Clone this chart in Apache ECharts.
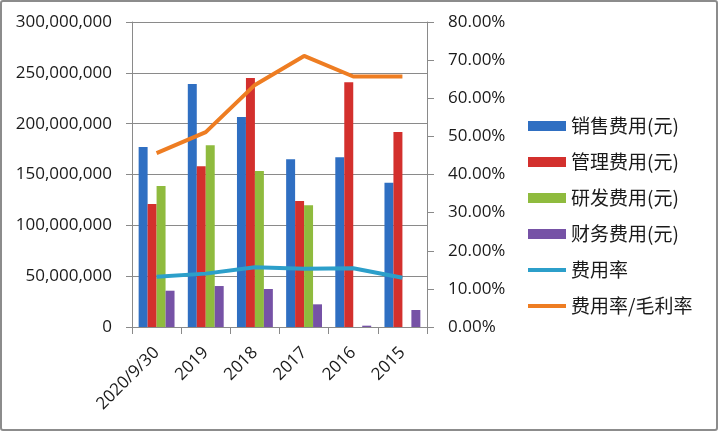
<!DOCTYPE html>
<html>
<head>
<meta charset="utf-8">
<script src="https://cdn.jsdelivr.net/npm/echarts@6/dist/echarts.min.js"></script>
<style>html,body{margin:0;padding:0;background:#fff;}#c{width:720px;height:433px;}</style>
</head>
<body>
<div id="c"></div>
<script>
var categories = ['2020/9/30', '2019', '2018', '2017', '2016', '2015'];
var salesExp = [177000000, 239000000, 206500000, 165000000, 167000000, 142000000];
var adminExp = [121000000, 158000000, 245000000, 124000000, 240700000, 191800000];
var rdExp = [138700000, 178700000, 153400000, 119700000, 0, 0];
var finExp = [35700000, 40300000, 37400000, 22300000, 1300000, 16700000];
var expRate = [0.132, 0.140, 0.157, 0.153, 0.154, 0.129];
var expGrossRate = [0.456, 0.511, 0.635, 0.711, 0.657, 0.657];
var names = ['销售费用(元)', '管理费用(元)', '研发费用(元)', '财务费用(元)', '费用率', '费用率/毛利率'];
var colors = ['#2f6fc2', '#d3302d', '#8fbb3e', '#7652a6', '#2c9fca', '#ee7d22'];

var chart = echarts.init(document.getElementById('c'));
var axisFont = {fontFamily: 'Open Sans', fontSize: 17, color: '#1a1a1a'};
var gray = '#8a8a8a';
function bar(i, data) {
  return {name: names[i], type: 'bar', data: data, yAxisIndex: 0,
    barGap: '0%', barCategoryGap: '27%', itemStyle: {color: colors[i]}};
}
function line(i, data) {
  return {name: names[i], type: 'line', data: data, yAxisIndex: 1, symbol: 'none',
    lineStyle: {color: colors[i], width: 4}, itemStyle: {color: colors[i]}, z: 5};
}
chart.setOption({
  animation: false,
  color: colors,
  grid: {left: 132, right: 293, top: 22, bottom: 106, containLabel: false},
  graphic: [{type: 'rect', shape: {x: 1, y: 1, width: 716, height: 429, r: 2},
    style: {fill: 'none', stroke: '#8c8c8c', lineWidth: 2}, silent: true}],
  legend: {
    orient: 'vertical', left: 523, top: 111, itemWidth: 38, itemHeight: 10, itemGap: 16,
    symbolKeepAspect: true,
    textStyle: {fontFamily: 'Noto Sans CJK SC', fontSize: 19, color: '#1a1a1a', lineHeight: 20},
    data: names.map(function (n, i) {
      return i < 4 ? {name: n, icon: 'rect'} : {name: n, icon: 'path://M0,0H38V4H0Z'};
    })
  },
  xAxis: {
    type: 'category', data: categories,
    axisLine: {lineStyle: {color: gray, width: 1}},
    axisTick: {show: true, length: 7, lineStyle: {color: gray}},
    axisLabel: Object.assign({rotate: 45, margin: 23, interval: 0}, axisFont)
  },
  yAxis: [{
    type: 'value', min: 0, max: 300000000, interval: 50000000,
    axisLine: {show: true, lineStyle: {color: gray}},
    axisTick: {show: true, length: 6, lineStyle: {color: gray}},
    splitLine: {show: true, lineStyle: {color: gray, width: 1}},
    axisLabel: Object.assign({margin: 20, formatter: function (v) { return v.toLocaleString('en-US'); }}, axisFont)
  }, {
    type: 'value', min: 0, max: 0.8, interval: 0.1, position: 'right',
    axisLine: {show: true, lineStyle: {color: gray}},
    axisTick: {show: true, length: 7, lineStyle: {color: gray}},
    splitLine: {show: false},
    axisLabel: Object.assign({margin: 21, formatter: function (v) { return (v * 100).toFixed(2) + '%'; }}, axisFont)
  }],
  series: [bar(0, salesExp), bar(1, adminExp), bar(2, rdExp), bar(3, finExp), line(4, expRate), line(5, expGrossRate)]
});
</script>
</body>
</html>
